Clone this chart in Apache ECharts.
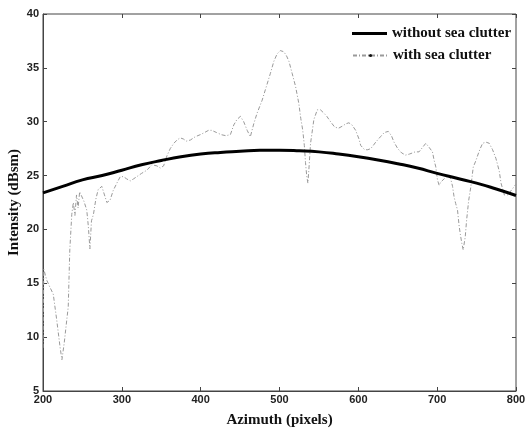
<!DOCTYPE html>
<html><head><meta charset="utf-8">
<script src="https://cdn.jsdelivr.net/npm/echarts@6/dist/echarts.min.js"></script>
<style>html,body{margin:0;padding:0;background:#fff}#c{width:526px;height:428px}</style>
</head><body><div id="c"></div>
<script>
var xTicks = [200, 300, 400, 500, 600, 700, 800];
var yTicks = [5, 10, 15, 20, 25, 30, 35, 40];
var seriesNames = ['without sea clutter', 'with sea clutter'];

var smoothX = [200,225,250,275,300,325,350,375,400,425,450,475,500,525,550,575,600,625,650,675,700,725,750,775,800];
var smoothY = [23.4,24.0,24.6,25.0,25.5,26.0,26.4,26.75,27.0,27.15,27.25,27.35,27.35,27.3,27.2,27.0,26.75,26.45,26.1,25.7,25.2,24.75,24.3,23.75,23.15];

var clutterX = [200,201,204.7,209,213,217.4,221.6,224,227,230,232,234,236.5,238.5,240.5,242.5,244.5,246.5,249,252,255.5,257.5,259.5,261.5,264,267,270,274.6,278,281,285,289,293.7,298,302,306,310.6,315,319,325,331.8,338,344.5,348.7,353,357,361.4,366,370,374,378,382,387,393,399.6,405,410,414,420,426,432,437.7,442,446,450.4,454.6,459,463,467.3,471.6,478,482.2,488.5,492.8,497,501,505.5,509,512,516,520.3,524.5,527,529.5,531.5,533,534.5,536,537.3,539.4,543.6,547.9,552,556.3,560,564.8,570,575,580,584,588,592,596.6,600.8,603,608,612,615.7,619,622,628,633,638,642,645.3,650,655,660,665,672,677,681.3,685.6,690,694,696.2,698.3,700.4,702.5,704.6,708.9,712,715,717.5,719.5,721.5,723.5,725.8,727.9,729.5,731.3,733,735.6,737.4,740,742.8,745.8,749.2,752,754.6,757.7,762,766,770.3,774.5,778.8,781,785.2,789.4,795.8,800];
var clutterY = [9.0,16.3,15.3,14.6,14.0,11.6,9.1,7.9,9.5,11.5,12.8,18.1,21.4,22.5,21.3,23.2,22.0,23.5,23.5,22.6,21.8,20.3,18.2,20.8,21.4,22.8,23.7,24.0,23.2,22.5,22.7,23.6,24.3,24.9,24.9,24.7,24.5,24.7,24.9,25.2,25.5,26.0,25.9,25.7,25.9,26.8,27.5,28.0,28.3,28.5,28.4,28.2,28.3,28.6,28.8,29.0,29.2,29.2,29.0,28.8,28.7,28.8,29.7,30.2,30.5,30.0,29.2,28.6,29.8,30.8,32.0,33.0,34.5,35.6,36.3,36.6,36.5,36.1,35.6,34.5,33.3,31.7,30.3,29.2,27.8,26.2,25.0,24.3,25.6,28.0,30.2,31.1,31.1,30.8,30.5,30.0,29.5,29.4,29.6,29.8,29.9,29.7,29.2,28.4,27.8,27.4,27.4,27.5,27.8,28.1,28.6,29.0,29.1,28.7,28.1,27.5,27.1,26.9,27.0,27.2,27.2,27.6,28.0,27.6,27.2,26.4,25.8,24.6,24.1,24.4,24.7,24.9,25.0,24.6,24.0,23.0,22.4,21.8,20.3,19.5,18.7,18.1,19.3,20.9,22.7,24.0,25.8,26.4,27.0,27.5,28.0,28.1,28.0,27.4,26.6,25.4,24.3,23.2,23.2,23.8,24.2];

function pairs(xs, ys){ return xs.map(function(x,i){ return [x, ys[i]]; }); }

var chart = echarts.init(document.getElementById('c'));
var tickFont = {fontFamily:'"Liberation Sans Narrow", "Liberation Sans", sans-serif', fontSize:11, fontWeight:'bold', color:'#222'};
var legendText = {fontFamily:'"Liberation Serif", serif', fontSize:15, fontWeight:'bold', color:'#111'};
var nameFont = {fontFamily:'"Liberation Serif", serif', fontSize:15, fontWeight:'bold', color:'#111'};
chart.setOption({
  animation:false,
  backgroundColor:'#fff',
  grid:{left:43, right:10, top:14, bottom:37, outerBoundsMode:'none', containLabel:false, show:true, borderColor:'#444', borderWidth:1},
  legend:[{
    orient:'vertical', left:352, top:26, padding:0, itemWidth:35, itemHeight:14, itemGap:5,
    symbolKeepAspect:true,
    textStyle:legendText,
    data:[{name:seriesNames[0], icon:'path://M0,0 L35,0 L35,3 L0,3 Z'}]
  },{
    orient:'vertical', left:352, top:48, padding:0, itemWidth:35, itemHeight:4, itemGap:5,
    textStyle:legendText,
    data:[seriesNames[1]]
  }],
  xAxis:[{
    type:'value', min:xTicks[0], max:xTicks[xTicks.length-1], interval:100,
    name:'Azimuth (pixels)', nameLocation:'middle', nameGap:22, nameMoveOverlap:false,
    nameTextStyle:nameFont,
    axisLine:{lineStyle:{color:'#444'}}, axisTick:{inside:true, length:4, lineStyle:{color:'#444'}},
    axisLabel:Object.assign({margin:3}, tickFont), splitLine:{show:false}
  },{
    type:'value', position:'top', min:200, max:800, interval:100,
    axisLine:{show:false}, axisTick:{inside:true, length:4, lineStyle:{color:'#444'}},
    axisLabel:{show:false}, splitLine:{show:false}
  }],
  yAxis:[{
    type:'value', min:yTicks[0], max:yTicks[yTicks.length-1], interval:5,
    name:'Intensity (dBsm)', nameLocation:'middle', nameGap:21, nameMoveOverlap:false,
    nameTextStyle:nameFont,
    axisLine:{lineStyle:{color:'#444'}}, axisTick:{inside:true, length:4, lineStyle:{color:'#444'}},
    axisLabel:Object.assign({margin:4}, tickFont), splitLine:{show:false}
  },{
    type:'value', position:'right', min:5, max:40, interval:5,
    axisLine:{show:false}, axisTick:{inside:true, length:4, lineStyle:{color:'#444'}},
    axisLabel:{show:false}, splitLine:{show:false}
  }],
  series:[{
    name:seriesNames[1], type:'line', data:pairs(clutterX, clutterY),
    symbol:'circle', symbolSize:3, showSymbol:false, smooth:false,
    itemStyle:{color:'#111'},
    lineStyle:{color:'#9a9a9a', width:1, type:[4,2,1,2]}, z:2
  },{
    name:seriesNames[0], type:'line', data:pairs(smoothX, smoothY),
    symbol:'none', smooth:true,
    itemStyle:{color:'#000'},
    lineStyle:{color:'#000', width:3}, z:3
  }]
});
</script></body></html>
